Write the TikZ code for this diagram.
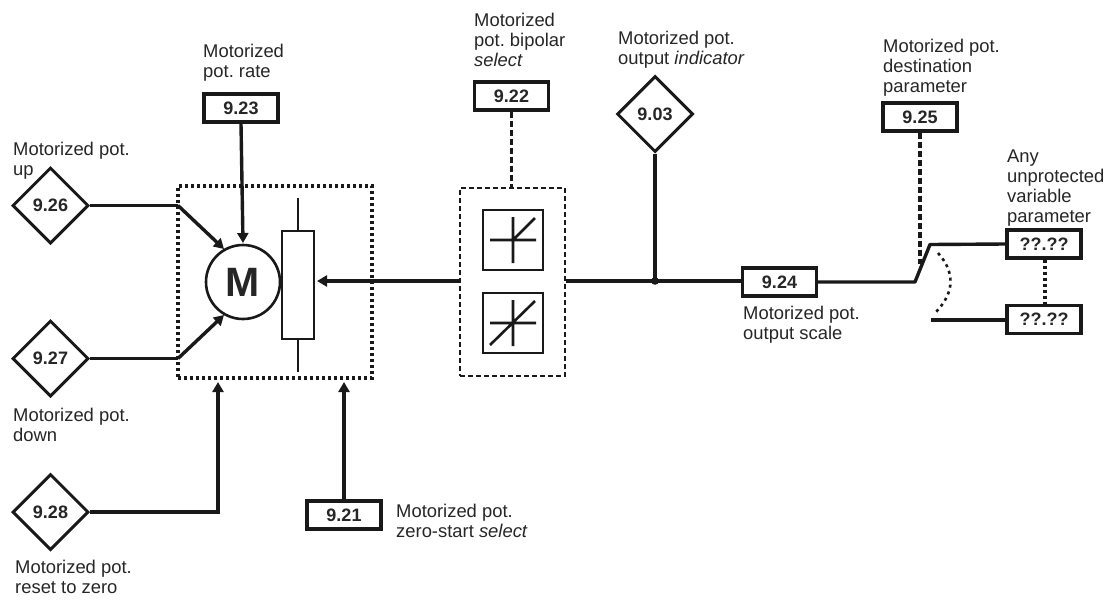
\documentclass[tikz,border=0pt]{standalone}
\usepackage{fontspec}
\setmainfont{Liberation Sans}
\frenchspacing
\usetikzlibrary{shapes.geometric,arrows.meta}
\tikzset{
  lab/.style={anchor=north west,align=left,inner sep=0pt,font=\fontsize{18.4}{20}\selectfont,text=black!85},
  pbox/.style={draw=black!90,line width=3.4pt,minimum width=74pt,minimum height=28pt,inner sep=0pt,font=\fontsize{18}{20}\selectfont\bfseries,text=black!85},
  dia/.style={draw=black!90,diamond,aspect=1,line width=3pt,minimum width=76pt,minimum height=76pt,inner sep=0pt,font=\fontsize{18}{20}\selectfont\bfseries,text=black!85},
  wire/.style={draw=black!90,line width=3.4pt},
  arr/.style={wire,-{Triangle[length=10pt,width=11pt]}},
  dashw/.style={draw=black!90,line width=3.6pt,dash pattern=on 6pt off 3pt},
  dotbox/.style={draw=black!90,line width=3.1pt,dash pattern=on 3pt off 3pt},
  dashbox/.style={draw=black!90,line width=2.1pt,dash pattern=on 5pt off 3pt},
  thin box/.style={draw=black!90,line width=2.6pt},
}
\begin{document}
\begin{tikzpicture}[x=1pt,y=-1pt]
\useasboundingbox (0,0) rectangle (1112,603);
\fill[white] (0,0) rectangle (1112,603);
% dotted motor box, dashed bipolar box
\node[dotbox,minimum width=194pt,minimum height=192pt,inner sep=0pt] (mbox) at (275,282) {};
\node[dashbox,minimum width=105pt,minimum height=188pt,inner sep=0pt] (bbox) at (512.5,282) {};
% motor and pot
\node[draw=black!90,circle,line width=2.6pt,minimum size=74pt,inner sep=0pt,font=\fontsize{41}{42}\selectfont\bfseries,text=black!85] (motor) at (243,282) {M};
\node[thin box,minimum width=32pt,minimum height=108pt,inner sep=0pt] (pot) at (298,285) {};
\coordinate (pt) at (298,198);
\coordinate (pb) at (298,372);
\draw[wire,line width=2.6pt] (pt) -- (pot.north);
\draw[wire,line width=2.6pt] (pot.south) -- (pb);
% parameter blocks
\node[pbox] (p23) at (241,108) {9.23};
\node[pbox] (p22) at (511.5,96) {9.22};
\node[pbox] (p25) at (920,117) {9.25};
\node[pbox] (p24) at (779.5,282) {9.24};
\node[pbox] (p21) at (344,515) {9.21};
\node[pbox] (q1) at (1044,244) {??.??};
\node[pbox] (q2) at (1044,319.5) {??.??};
\node[dia] (d26) at (50.5,205.5) {9.26};
\node[dia] (d27) at (50.5,358.5) {9.27};
\node[dia] (d28) at (50.5,512) {9.28};
\node[dia] (d03) at (655,114) {9.03};
% graph symbol boxes
\node[thin box,minimum size=60pt,inner sep=0pt] (g1) at (513,240) {};
\node[thin box,minimum size=60pt,inner sep=0pt] (g2) at (513,323) {};
\draw[wire,line width=2.6pt] (490,240) -- (536,240) (513,217) -- (513,263) (513,240) -- (535,218);
\draw[wire,line width=2.6pt] (490,323) -- (536,323) (513,300) -- (513,346) (490,345) -- (535,301);
% connectors
\coordinate (c26) at (178,205.5);
\coordinate (c27) at (178,358.5);
\coordinate (a26) at (224,249);
\coordinate (a27) at (224,315);
\coordinate (c28) at (218,512);
\coordinate (a28) at (218,382);
\coordinate (a21) at (344,382);
\coordinate (apot) at (317,281);
\draw[wire] (d26.east) -- (c26);
\draw[arr] (c26) -- (a26);
\draw[wire] (d27.east) -- (c27);
\draw[arr] (c27) -- (a27);
\draw[arr] (d28.east) -- (c28) -- (a28);
\draw[arr] (p21.north) -- (a21);
\draw[arr] (p23.south) -- (243,243);
\draw[arr] (bbox.west |- apot) -- (apot);
\coordinate (j) at (655,281);
\draw[wire] (bbox.east |- j) -- (p24.west |- j);
\draw[wire] (d03.south) -- (j);
\fill[black!90] (j) circle (3.8pt);
\coordinate (s1) at (915,282);
\coordinate (s2) at (930,244.5);
\coordinate (s3) at (931,320);
\draw[wire,line join=round] (p24.east) -- (s1) -- (s2) -- (q1.west);
\draw[wire] (s3) -- (q2.west |- s3);
\draw[dashw] (p22.south) -- (bbox.north -| p22);
\draw[dashw] (p25.south) -- (920,264);
\draw[dotbox] (q1.south -| 1045,0) -- (q2.north -| 1045,0);
\draw[dotbox,line width=2.6pt,dash pattern=on 3pt off 4pt] (938,253) .. controls (955,272) and (955,292) .. (936,312);
% labels
\node[lab] (l23) at (203,44) {Motorized\\pot. rate};
\node[lab] (l26) at (13,142) {Motorized pot.\\up};
\node[lab] (l27) at (13,408) {Motorized pot.\\down};
\node[lab] (l28) at (15,560) {Motorized pot.\\reset to zero};
\node[lab] (l21) at (396,504) {Motorized pot.\\zero-start \textit{select}};
\node[lab] (l22) at (474,13) {Motorized\\pot. bipolar\\\textit{select}};
\node[lab] (l03) at (618,31) {Motorized pot.\\output \textit{indicator}};
\node[lab] (l24) at (743,306) {Motorized pot.\\output scale};
\node[lab] (l25) at (883,39) {Motorized pot.\\destination\\parameter};
\node[lab] (lq) at (1007,150) {Any\\unprotected\\variable\\parameter};
\end{tikzpicture}
\end{document}
